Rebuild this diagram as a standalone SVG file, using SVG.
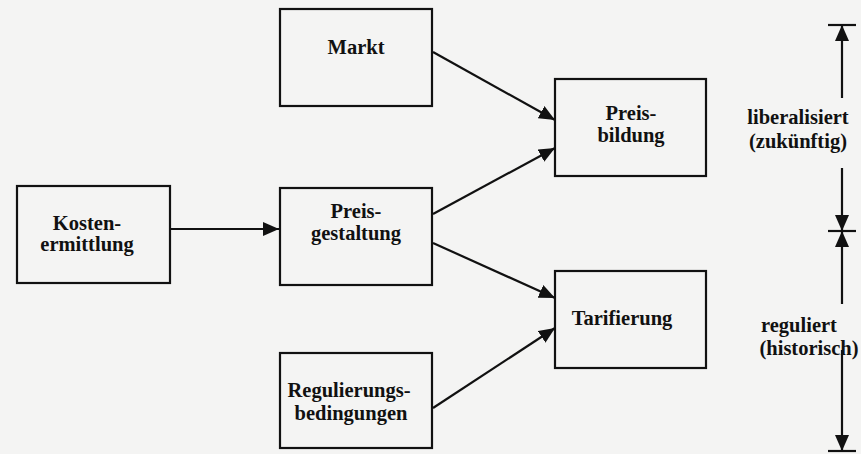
<svg xmlns="http://www.w3.org/2000/svg" width="861" height="454" viewBox="0 0 861 454">
<style>
.box{fill:none;stroke:#111;stroke-width:2.2}
.t{font-family:"Liberation Serif","Times New Roman",serif;font-weight:bold;font-size:20.5px;fill:#111;text-anchor:middle}
.c{stroke:#111;stroke-width:2.2;fill:none}
</style>
<defs>
<marker id="ah" markerUnits="userSpaceOnUse" markerWidth="18" markerHeight="14" refX="16" refY="7" orient="auto">
<path d="M0,0 L16,7 L0,14 Z" fill="#111"/>
</marker>
</defs>
<rect width="861" height="454" fill="#f4f4f3"/>
<g id="kosten"><rect class="box" x="17" y="186" width="153" height="97"/><text class="t" x="87" y="230">Kosten-</text><text class="t" x="87" y="251">ermittlung</text></g>
<g id="markt"><rect class="box" x="280" y="9" width="152" height="97"/><text class="t" x="356" y="54">Markt</text></g>
<g id="preisgestaltung"><rect class="box" x="280" y="188" width="152" height="97"/><text class="t" x="356" y="218">Preis-</text><text class="t" x="356" y="240">gestaltung</text></g>
<g id="regulierung"><rect class="box" x="280" y="353" width="152" height="95"/><text class="t" x="349" y="397">Regulierungs-</text><text class="t" x="351" y="420">bedingungen</text></g>
<g id="preisbildung"><rect class="box" x="555" y="79" width="151" height="97"/><text class="t" x="631" y="120">Preis-</text><text class="t" x="631" y="142">bildung</text></g>
<g id="tarifierung"><rect class="box" x="555" y="271" width="151" height="97"/><text class="t" x="622" y="325">Tarifierung</text></g>
<g id="connectors">
<line class="c" x1="170" y1="229" x2="279" y2="229" marker-end="url(#ah)"/>
<line class="c" x1="433" y1="52" x2="555" y2="120" marker-end="url(#ah)"/>
<line class="c" x1="433" y1="214" x2="555" y2="148" marker-end="url(#ah)"/>
<line class="c" x1="433" y1="243" x2="555" y2="298" marker-end="url(#ah)"/>
<line class="c" x1="433" y1="408" x2="555" y2="328" marker-end="url(#ah)"/>
</g>
<g id="scale">
<line class="c" x1="828" y1="25" x2="856" y2="25"/>
<line class="c" x1="828" y1="231" x2="856" y2="231"/>
<line class="c" x1="828" y1="451" x2="856" y2="451"/>
<line class="c" x1="842" y1="98" x2="842" y2="25" marker-end="url(#ah)"/>
<line class="c" x1="842" y1="168" x2="842" y2="231" marker-end="url(#ah)"/>
<line class="c" x1="842" y1="304" x2="842" y2="231" marker-end="url(#ah)"/>
<line class="c" x1="842" y1="350" x2="842" y2="451" marker-end="url(#ah)"/>
<text class="t" x="798" y="124">liberalisiert</text>
<text class="t" x="798" y="148">(zukünftig)</text>
<text class="t" x="799" y="332">reguliert</text>
<text class="t" x="809" y="355">(historisch)</text>
</g>
</svg>
